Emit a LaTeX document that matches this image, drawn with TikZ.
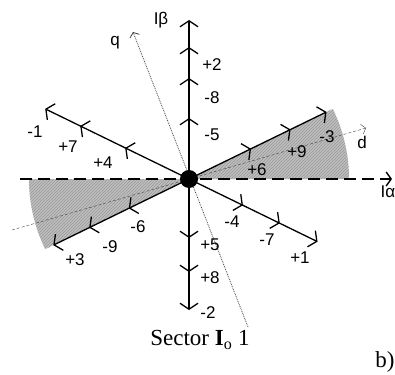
\documentclass[tikz,border=0pt]{standalone}
\usepackage{fontspec}
\setmainfont{Liberation Serif}
\setsansfont{Liberation Sans}
\usetikzlibrary{arrows.meta,calc,decorations.markings,patterns}

\tikzset{
  chev/.tip={Straight Barb[length=6pt,width=18pt]},
  lbl/.style={font=\sffamily\fontsize{17}{17}\selectfont,inner sep=0pt},
  ser/.style={font=\rmfamily\fontsize{23}{23}\selectfont,inner sep=0pt},
  vec/.style={line width=1.3pt,-chev}
}

\begin{document}
\begin{tikzpicture}[x=1pt,y=-1pt]
  \useasboundingbox (0,0) rectangle (395,374);
  \coordinate (O) at (189,179);
  % shaded sectors
  \foreach \s in {0,180}{
    \fill[gray!50] (O) -- ++(\s:160) arc[start angle=\s,end angle=\s-26,radius=160] -- cycle;
    \fill[pattern=north east lines,pattern color=gray!80] (O) -- ++(\s:160) arc[start angle=\s,end angle=\s-26,radius=160] -- cycle;
  }
  % alpha axis (dashed)
  \coordinate (aL) at (20,179);
  \coordinate (aR) at (392,179);
  \draw[line width=1.4pt,dash pattern=on 12pt off 6pt,-{Straight Barb[length=5pt,width=14pt]}] (aL) -- (aR);
  % d-q axes
  \coordinate (dA) at (12,230);
  \coordinate (dB) at (366,128);
  \coordinate (qA) at (248,327);
  \coordinate (qB) at (133,32);
  \draw[gray!50!black,densely dashed,-{Straight Barb[length=4pt,width=10pt]}] (dA) -- (dB);
  \draw[gray!50!black,densely dotted,line width=0.8pt,-{Straight Barb[length=4pt,width=10pt]}] (qA) -- (qB);
  % beta axis
  \coordinate (bT) at (189,20);
  \coordinate (bB) at (189,310);
  \draw[vec,postaction={decorate},decoration={markings,
      mark=at position 61pt with {\arrow[line width=1.3pt]{chev}},
      mark=at position 101pt with {\arrow[line width=1.3pt]{chev}},
      mark=at position 132pt with {\arrow[line width=1.3pt]{chev}}}] (O) -- (bT);
  \draw[vec,postaction={decorate},decoration={markings,
      mark=at position 59pt with {\arrow[line width=1.3pt]{chev}},
      mark=at position 93pt with {\arrow[line width=1.3pt]{chev}}}] (O) -- (bB);
  % oblique vectors
  \foreach \a/\l/\p/\q [count=\i] in {-26/153/69/113,206/160/71/121,154/151/67/111,26/143/60/101}{
    \coordinate (v\i) at ($(O)+(\a:\l)$);
    \draw[vec,postaction={decorate},decoration={markings,
        mark=at position \p pt with {\arrow[line width=1.3pt]{chev}},
        mark=at position \q pt with {\arrow[line width=1.3pt]{chev}}}] (O) -- (v\i);
  }
  \fill (O) circle (9);
  % labels
  \node[lbl] (lb) at (161,20) {Iβ};
  \node[lbl] (la) at (388,192) {Iα};
  \node[lbl] (lq) at (115,43) {q};
  \node[lbl] (ld) at (362,142) {d};
  \node[lbl] (n1) at (212,65) {+2};
  \node[lbl] (n2) at (212,98) {-8};
  \node[lbl] (n3) at (212,135) {-5};
  \node[lbl] (n4) at (35,132) {-1};
  \node[lbl] (n5) at (68,147) {+7};
  \node[lbl] (n6) at (103,163) {+4};
  \node[lbl] (n7) at (327,137) {-3};
  \node[lbl] (n8) at (297,152) {+9};
  \node[lbl] (n9) at (257,170) {+6};
  \node[lbl] (n10) at (138,227) {-6};
  \node[lbl] (n11) at (110,247) {-9};
  \node[lbl] (n12) at (75,260) {+3};
  \node[lbl] (n13) at (232,222) {-4};
  \node[lbl] (n14) at (267,240) {-7};
  \node[lbl] (n15) at (300,258) {+1};
  \node[lbl] (n16) at (210,245) {+5};
  \node[lbl] (n17) at (210,278) {+8};
  \node[lbl] (n18) at (208,313) {-2};
  \node[ser] (sec) at (200,340) {Sector $\mathbf{I}_{\mathrm{o}}$ 1};
  \node[ser] (lab) at (385,362) {b)};
\end{tikzpicture}
\end{document}
